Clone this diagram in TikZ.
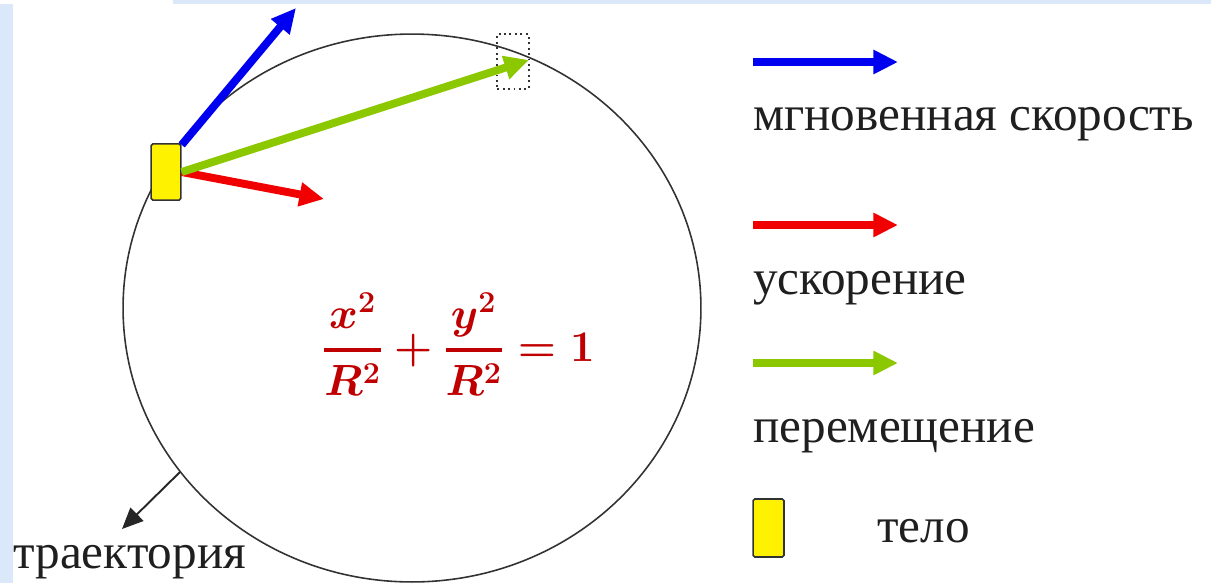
\documentclass[tikz,border=0pt]{standalone}
\usepackage{fontspec}
\setmainfont{Liberation Serif}
\newfontfamily\lblserif{Liberation Serif}
\usetikzlibrary{arrows.meta}
\definecolor{bgblue}{RGB}{218,232,250}
\definecolor{vblue}{RGB}{0,0,240}
\definecolor{vred}{RGB}{240,0,0}
\definecolor{vgreen}{RGB}{140,200,0}
\definecolor{frmred}{RGB}{192,0,0}
\definecolor{edgegray}{RGB}{50,50,50}
\newsavebox{\frmbox}
\newcommand{\lblfont}{\lblserif\fontsize{28}{33}\selectfont}
\begin{document}
\sbox{\frmbox}{\color{frmred}\fontsize{26}{31}\selectfont\boldmath$\displaystyle{x^2\above 2.2pt R^2}+{y^2\above 2.2pt R^2}=1$}
\begin{tikzpicture}[x=0.02cm,y=-0.02cm,
  vec/.style={line width=4.5pt,-{Triangle[length=14pt,width=13pt]}},
  lbl/.style={anchor=base west,inner sep=0pt,text=black!88},
  bodybox/.style={draw=edgegray,fill=yellow,line width=0.9pt,rounded corners=1pt,inner sep=0pt,minimum width=17pt,minimum height=32pt},
  endbox/.style={draw=edgegray,dotted,line width=1.1pt,inner sep=0pt,minimum width=18pt,minimum height=31pt},
  trajarrow/.style={black!85,line width=1.1pt,-{Triangle[length=12pt,width=10.5pt]}}]
\useasboundingbox (0,0) rectangle (1211,583);
\fill[bgblue] (0,4) rectangle (13,583);
\fill[bgblue] (173,0) rectangle (1211,3.5);
\draw[edgegray,line width=0.9pt] (412,308) ellipse [x radius=5.78cm, y radius=5.48cm];
\node[endbox] (endpos) at (513,61.5) {};
\node[bodybox] (body) at (166,172) {};
\coordinate (vtip) at (296,8);
\coordinate (atip) at (324,199);
\coordinate (dtip) at (529,60);
\draw[vec,vblue] ([yshift=-1pt]body.north east) -- (vtip);
\draw[vec,vred] (body.east) -- (atip);
\draw[vec,vgreen] (body.east) -- (dtip);
\path (877,542) node[lbl] (t4) {\lblfont тело};
\path (753,130) node[lbl] (t1) {\lblfont мгновенная скорость};
\path (753,294) node[lbl] (t2) {\lblfont ускорение};
\path (753,442) node[lbl] (t3) {\lblfont перемещение};
\path (13,568) node[lbl] (trajlbl) {\lblfont траектория};
\path (322,361) node[anchor=base west,inner sep=0pt] (formula) {\usebox{\frmbox}};
\coordinate (trajpt) at (180,472);
\coordinate (trajtip) at (122,529);
\draw[trajarrow] (trajpt) -- (trajtip);
\coordinate (l1a) at (753,62);
\coordinate (l1b) at (898,62);
\coordinate (l2a) at (753,225);
\coordinate (l2b) at (898,225);
\coordinate (l3a) at (753,363);
\coordinate (l3b) at (898,363);
\draw[vec,vblue] (l1a) -- (l1b);
\draw[vec,vred] (l2a) -- (l2b);
\draw[vec,vgreen] (l3a) -- (l3b);
\node[bodybox,minimum width=17.6pt,minimum height=33pt] (lbody) at (768.5,528) {};
\end{tikzpicture}
\end{document}
